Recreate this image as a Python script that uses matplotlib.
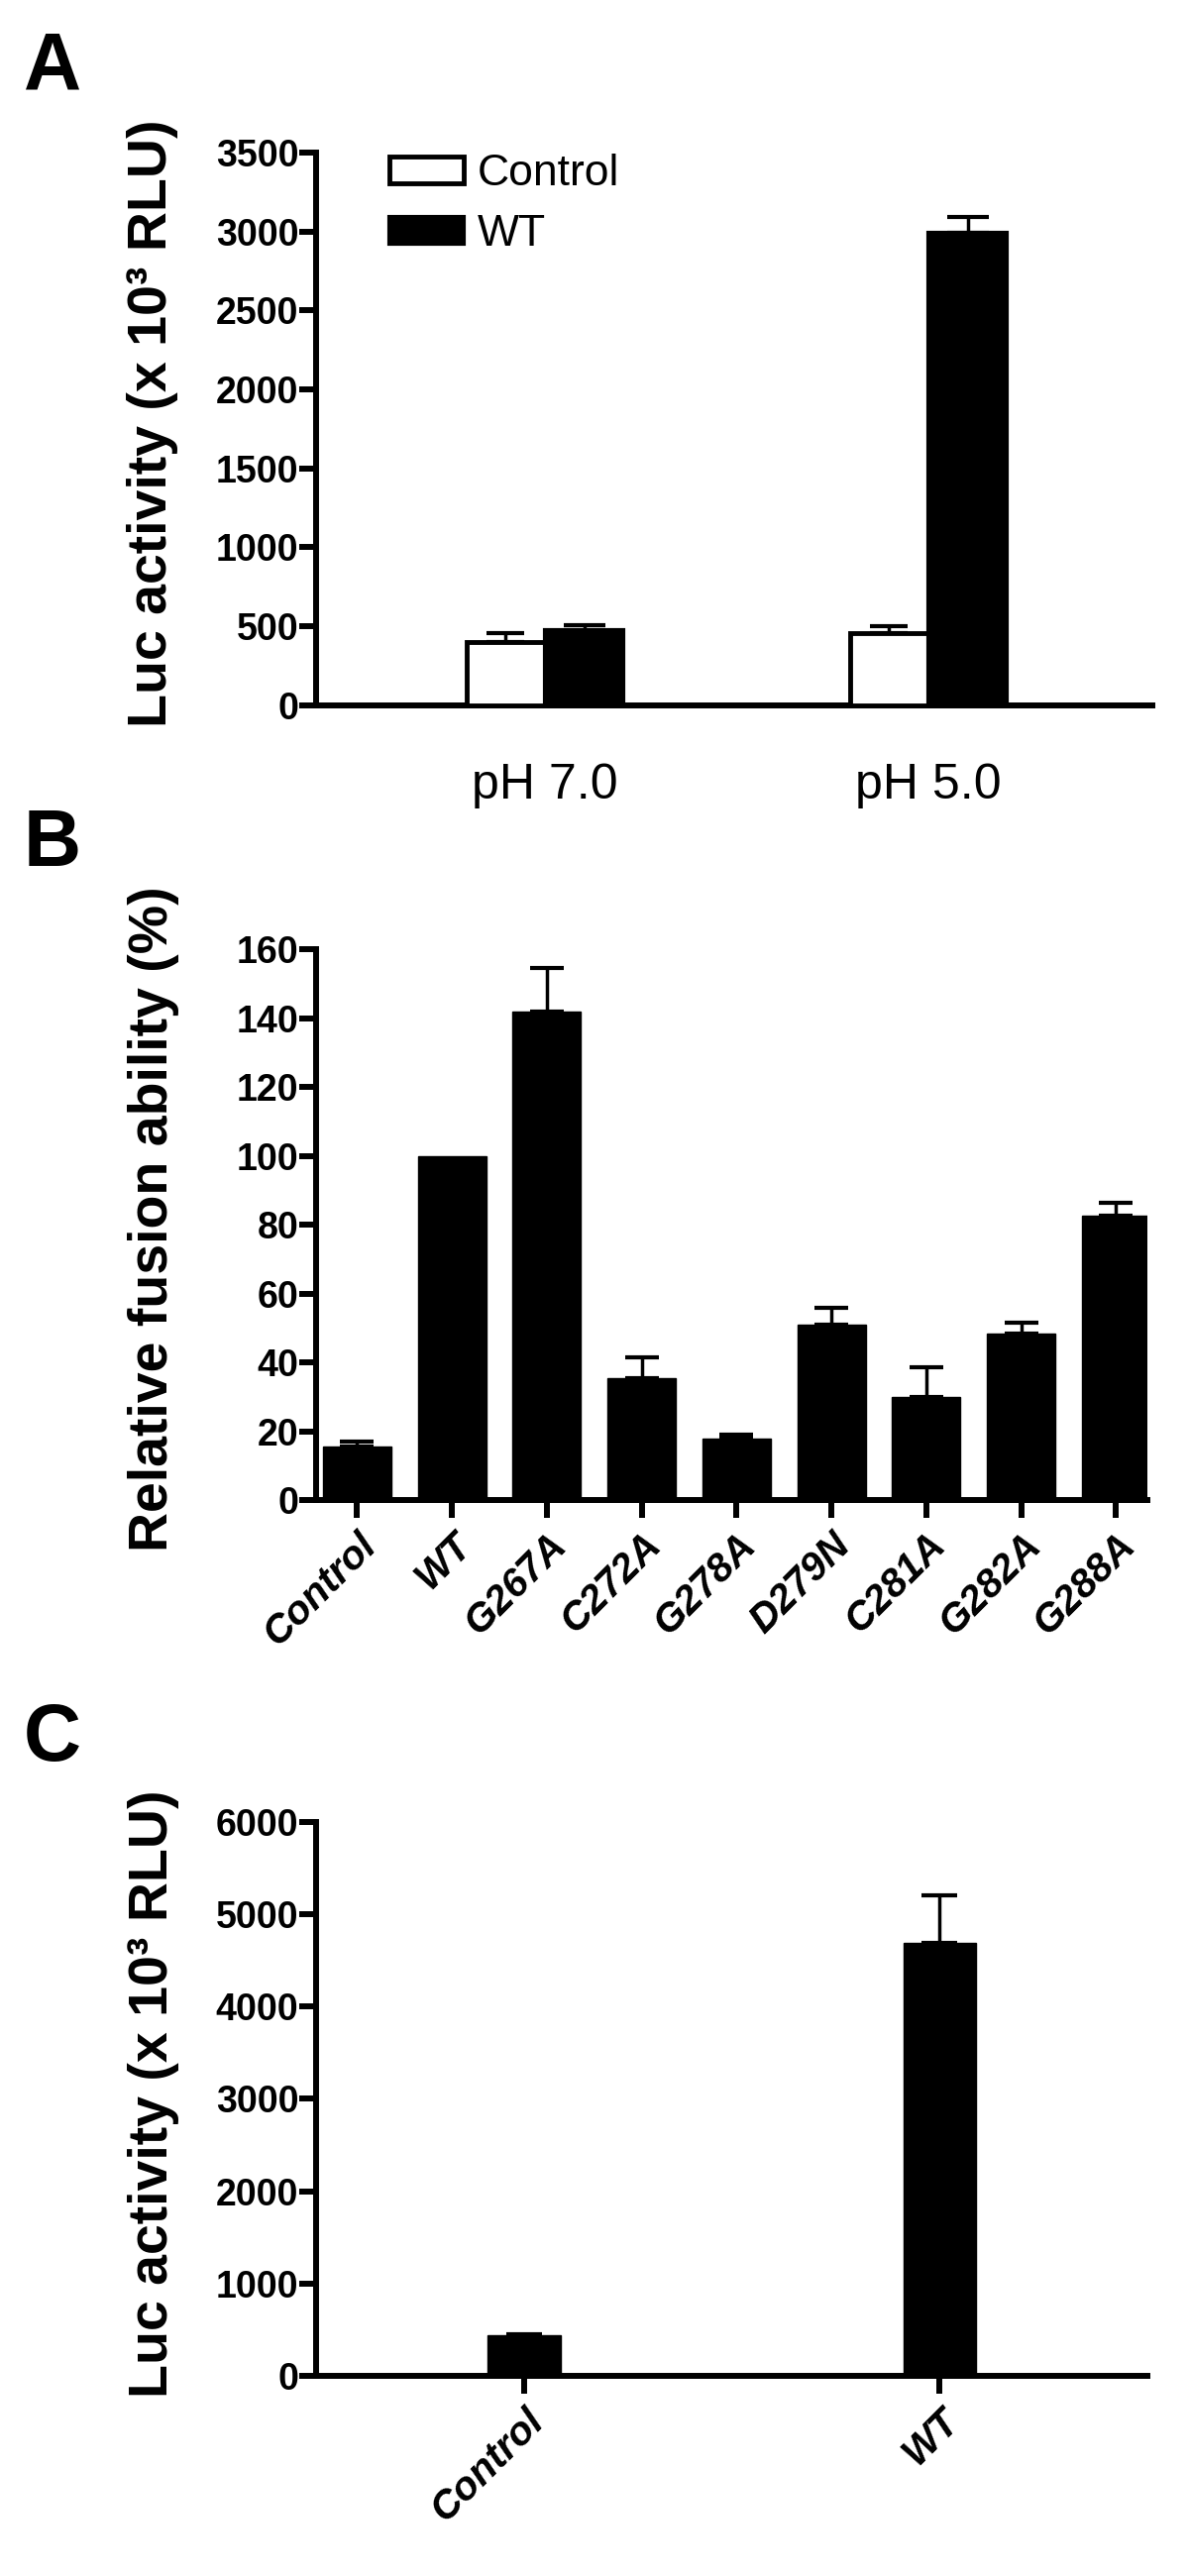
import matplotlib
matplotlib.use('Agg')
import matplotlib.pyplot as plt
import numpy as np

plt.rcParams['font.family'] = ['Liberation Sans', 'DejaVu Sans']
NARROW = ['Liberation Sans Narrow', 'Liberation Sans', 'DejaVu Sans']

# Panel A: luciferase activity at two pH values
ph_labels = ['pH 7.0', 'pH 5.0']
a_control = [400, 460]
a_control_err = [55, 40]
a_wt = [475, 2990]
a_wt_err = [30, 100]

# Panel B: relative fusion ability of mutants
b_labels = ['Control', 'WT', 'G267A', 'C272A', 'G278A', 'D279N', 'C281A', 'G282A', 'G288A']
b_values = [15.5, 100, 142, 35.5, 18, 51, 30, 48.5, 82.5]
b_err = [1.5, 0, 12.5, 6, 1, 5, 8.5, 3, 4]

# Panel C: luciferase activity, control vs WT
c_labels = ['Control', 'WT']
c_values = [440, 4690]
c_err = [10, 520]

LW = 4.3


def style_axes(ax, xticks=True):
    for side in ['top', 'right']:
        ax.spines[side].set_visible(False)
    for side in ['left', 'bottom']:
        ax.spines[side].set_linewidth(LW)
    ax.tick_params(axis='y', direction='out', length=12, width=LW, pad=1)
    if xticks:
        ax.tick_params(axis='x', direction='out', length=13, width=LW, pad=6)
    else:
        ax.tick_params(axis='x', length=0, pad=42)
    for lab in ax.get_yticklabels():
        lab.set_fontweight('bold')
        lab.set_fontsize(27)


def upper_err(ax, x, y, err, capsize):
    # one-sided (upper) error bars, skip zero-length ones
    x = np.asarray(x)
    y = np.asarray(y)
    err = np.asarray(err)
    keep = err > 0
    ax.errorbar(x[keep], y[keep], yerr=[np.zeros(keep.sum()), err[keep]], fmt='none',
                ecolor='black', elinewidth=2.5, capsize=capsize, capthick=3, zorder=2)


fig = plt.figure(figsize=(12, 26), dpi=100)

# ---------------- Panel A ----------------
axA = fig.add_axes([0.266, 0.7262, 0.703, 0.2146])
xa = np.arange(len(ph_labels))
wa = 0.205
axA.bar(xa - wa / 2, a_control, wa, color='white', edgecolor='black', linewidth=3.5,
        label='Control', zorder=3)
upper_err(axA, xa - wa / 2, a_control, a_control_err, 14)
axA.bar(xa + wa / 2, a_wt, wa, color='black', edgecolor='black', linewidth=3,
        label='WT', zorder=3)
upper_err(axA, xa + wa / 2, a_wt, a_wt_err, 15)
axA.set_xlim(-0.597, 1.584)
axA.set_ylim(0, 3500)
axA.set_yticks(np.arange(0, 3501, 500))
axA.set_xticks(xa)
axA.set_xticklabels(ph_labels, family=NARROW, fontsize=36)
style_axes(axA, xticks=False)
axA.set_ylabel('Luc activity (x 10³ RLU)', fontsize=40, fontweight='bold')
axA.yaxis.set_label_coords(-0.165, 0.51)
leg = axA.legend(loc='upper left', bbox_to_anchor=(0.04, 1.07), frameon=False,
                 prop={'family': NARROW, 'size': 32}, handlelength=1.7,
                 handleheight=0.55, labelspacing=0.45, handletextpad=0.3)

# ---------------- Panel B ----------------
axB = fig.add_axes([0.266, 0.4176, 0.699, 0.2139])
xb = np.arange(len(b_labels))
axB.bar(xb, b_values, 0.72, color='black', edgecolor='black', zorder=3)
upper_err(axB, xb, b_values, b_err, 12.5)
axB.set_xlim(-0.43, 8.33)
axB.set_ylim(0, 160)
axB.set_yticks(np.arange(0, 161, 20))
axB.set_xticks(xb)
axB.set_xticklabels(b_labels, rotation=45, ha='right', rotation_mode='anchor',
                    fontsize=29, fontweight='bold', fontstyle='italic')
style_axes(axB)
axB.set_ylabel('Relative fusion ability (%)', fontsize=40, fontweight='bold')
axB.yaxis.set_label_coords(-0.165, 0.51)

# ---------------- Panel C ----------------
axC = fig.add_axes([0.266, 0.0777, 0.699, 0.215])
xc = np.arange(len(c_labels))
axC.bar(xc, c_values, 0.175, color='black', edgecolor='black', zorder=3)
upper_err(axC, xc, c_values, c_err, 13)
axC.set_xlim(-0.5, 1.5)
axC.set_ylim(0, 6000)
axC.set_yticks(np.arange(0, 6001, 1000))
axC.set_xticks(xc)
axC.set_xticklabels(c_labels, rotation=45, ha='right', rotation_mode='anchor',
                    fontsize=29, fontweight='bold', fontstyle='italic')
style_axes(axC)
axC.set_ylabel('Luc activity (x 10³ RLU)', fontsize=40, fontweight='bold')
axC.yaxis.set_label_coords(-0.165, 0.51)

# panel letters
for letter, ypix in [('A', 30), ('B', 815), ('C', 1718)]:
    fig.text(0.02, 1 - ypix / 2600, letter, fontsize=58, fontweight='bold',
             va='top', ha='left')

fig.savefig('out.png', dpi=100)
